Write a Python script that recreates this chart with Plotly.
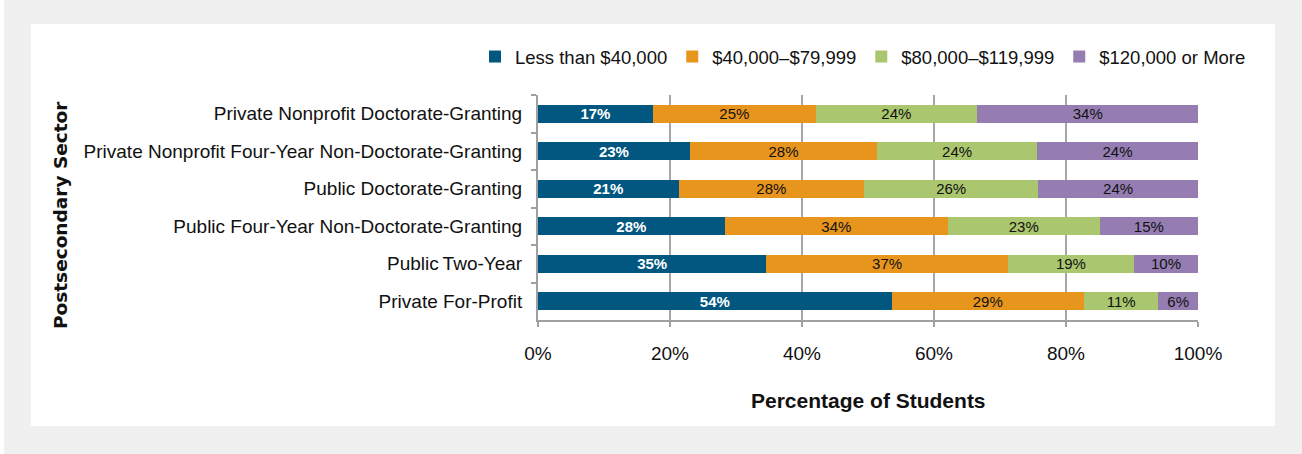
import plotly.graph_objects as go

categories = [
    "Private Nonprofit Doctorate-Granting",
    "Private Nonprofit Four-Year Non-Doctorate-Granting",
    "Public Doctorate-Granting",
    "Public Four-Year Non-Doctorate-Granting",
    "Public\u2009Two-Year",
    "Private For-Profit",
]
series_names = ["Less than $40,000", "$40,000\u2013$79,999", "$80,000\u2013$119,999", "$120,000 or More"]
less_40k = [17.4, 23.0, 21.3, 28.3, 34.6, 53.6]
from_40k_to_80k = [24.7, 28.4, 28.1, 33.8, 36.6, 29.1]
from_80k_to_120k = [24.4, 24.2, 26.4, 23.0, 19.1, 11.3]
over_120k = [33.6, 24.4, 24.2, 14.9, 9.7, 6.0]
x_ticks = [0, 20, 40, 60, 80, 100]
x_tick_labels = ["0%", "20%", "40%", "60%", "80%", "100%"]

colors = ["#01577f", "#e8951d", "#aac66e", "#957db2"]
label_colors = ["white", "#111111", "#111111", "#111111"]
REG = "Liberation Sans, Arial, Helvetica, sans-serif"

# plot area in pixels
L, R, T, B = 538, 1198, 95, 320
PW, PH = R - L, B - T


def px(x):
    return (x - L) / PW


def py(y):
    return (B - y) / PH


fig = go.Figure()
for name, vals, c, lc in zip(series_names, [less_40k, from_40k_to_80k, from_80k_to_120k, over_120k], colors, label_colors):
    fig.add_trace(go.Bar(
        y=categories, x=vals, name=name, orientation="h",
        marker=dict(color=c, line=dict(width=0)),
        texttemplate="%{x:.0f}%", textposition="inside", insidetextanchor="middle",
        textangle=0, constraintext="none",
        textfont=dict(family=REG, size=15, color=lc,
                      weight="bold" if lc == "white" else "normal"),
    ))

fig.update_layout(
    width=1302, height=454,
    barmode="stack", bargap=0.52,
    paper_bgcolor="#eff0ef", plot_bgcolor="white",
    margin=dict(l=L, r=1302 - R, t=T, b=454 - B),
    legend=dict(orientation="h", x=px(475), xanchor="left", y=py(57), yanchor="middle",
                font=dict(family=REG, size=18.5, color="#111"), bgcolor="rgba(0,0,0,0)",
                traceorder="normal", itemwidth=30),
    showlegend=True,
    shapes=[
        dict(type="rect", xref="paper", yref="paper", layer="below",
             x0=px(31), x1=px(1275), y0=py(426), y1=py(24),
             fillcolor="white", line=dict(width=0)),
        dict(type="rect", xref="paper", yref="paper", layer="below",
             x0=px(0), x1=px(4), y0=py(454), y1=py(0),
             fillcolor="white", line=dict(width=0)),
    ],
    annotations=[
        dict(text="<b>Postsecondary Sector</b>", xref="paper", yref="paper",
             x=px(60), y=py(215), textangle=-90, showarrow=False,
             font=dict(family="DejaVu Sans, sans-serif", size=18.5, color="#111"),
             xanchor="center", yanchor="middle"),
        dict(text="<b>Percentage of Students</b>", xref="paper", yref="paper",
             x=px(868), y=py(400), showarrow=False,
             font=dict(family=REG, size=21, color="#111"),
             xanchor="center", yanchor="middle"),
    ],
)
fig.update_xaxes(range=[0, 100], tickvals=x_ticks, ticktext=x_tick_labels,
                 showgrid=True, gridcolor="#a6a6a6", gridwidth=1.5,
                 showline=True, linecolor="#a0a0a0", linewidth=2,
                 ticks="outside", ticklen=5, tickcolor="#a0a0a0", tickwidth=2,
                 ticklabelstandoff=10,
                 tickfont=dict(family=REG, size=19, color="#111"),
                 zeroline=False, fixedrange=True)
fig.update_yaxes(autorange="reversed", showline=True, linecolor="#a0a0a0", linewidth=2,
                 ticks="outside", ticklen=5, tickcolor="#a0a0a0", tickwidth=2,
                 tickson="boundaries", ticklabelstandoff=10,
                 tickfont=dict(family=REG, size=19, color="#111"),
                 showgrid=False, fixedrange=True)

fig.write_html("out.html", config={"displayModeBar": False},
               post_script="document.body.style.margin='0';")
